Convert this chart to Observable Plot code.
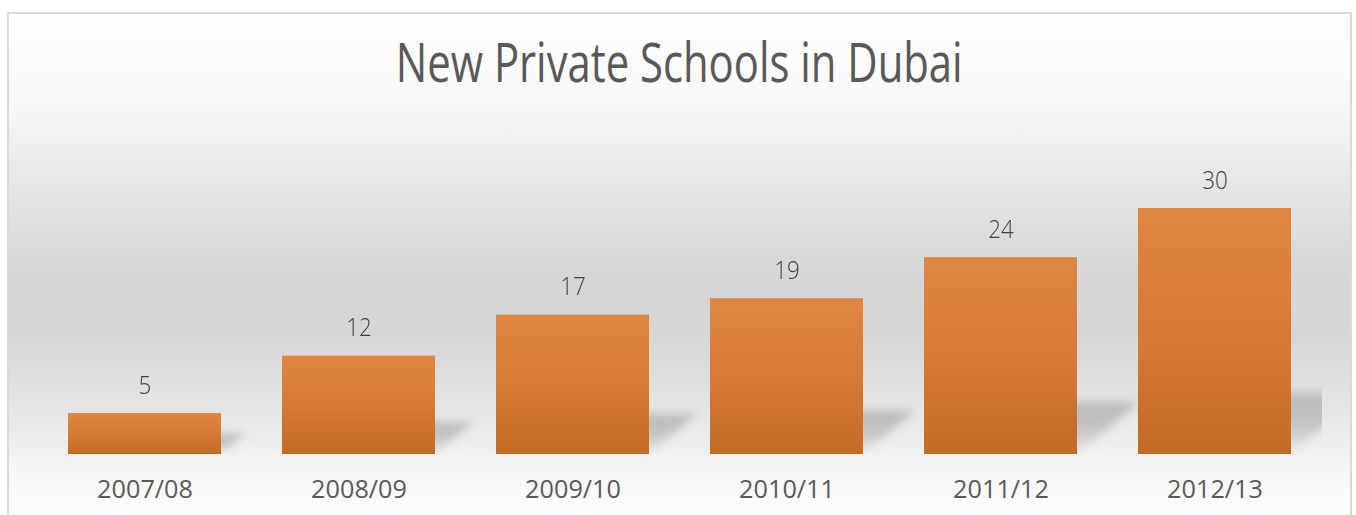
<!DOCTYPE html>
<html>
<head>
<meta charset="utf-8">
<script src="https://cdn.jsdelivr.net/npm/d3@7"></script>
<script src="https://cdn.jsdelivr.net/npm/@observablehq/plot@0.6"></script>
<style>
  html, body { margin: 0; padding: 0; background: #ffffff; }
  #wrap { position: relative; width: 1356px; height: 515px; overflow: hidden; background: #fff; }
  #frame {
    position: absolute; left: 7px; top: 12px; width: 1345px; height: 540px;
    border: 2px solid #d9d9d9; box-sizing: border-box;
    background: linear-gradient(to bottom,
      #ffffff 0px, #f8f8f8 88px, #e6e6e6 170px, #d6d6d6 260px, #d6d6d6 320px,
      #e4e4e4 390px, #ececec 425px, #f7f7f7 458px, #fcfcfc 490px, #fdfdfd 540px);
  }
  #title {
    position: absolute; left: 8px; width: 1343px; top: 34px; text-align: center;
    font-family: "Open Sans", sans-serif; font-weight: 400; font-size: 54px; line-height: 54px;
    color: #595959; white-space: nowrap;
  }
  #title span { display: inline-block; transform-origin: 50% 50%; }
  #chart { position: absolute; left: 0; top: 0; }
</style>
</head>
<body>
<div id="wrap">
  <div id="frame"></div>
  <div id="title"><span id="titleText">New Private Schools in Dubai</span></div>
  <div id="chart"></div>
</div>
<script>
const years = ["2007/08", "2008/09", "2009/10", "2010/11", "2011/12", "2012/13"];
const schools = [5, 12, 17, 19, 24, 30];

const data = years.map((year, i) => ({year, value: schools[i]}));

const plot = Plot.plot({
  width: 1356,
  height: 515,
  marginLeft: 37.5,
  marginRight: 34.5,
  marginTop: 208,
  marginBottom: 61,
  style: {background: "transparent", fontFamily: "Open Sans, sans-serif", overflow: "visible"},
  x: {domain: years, paddingInner: 0.285, paddingOuter: 0.1425, axis: null},
  y: {domain: [0, 30], axis: null},
  marks: [
    // soft cast shadow behind each bar
    Plot.barY(data, {x: "year", y: d => d.value * 0.2 + 1.5, fill: "url(#shadowGrad)", clip: true}),
    Plot.barY(data, {x: "year", y: "value", fill: "url(#barGrad)"}),
    Plot.text(data, {x: "year", y: "value", text: d => String(d.value), lineAnchor: "bottom", dy: -20,
      fontSize: 26, fontWeight: 300, fill: "#404040"}),
    Plot.axisX({domain: years, label: null, tickSize: 0, tickPadding: 25, fontSize: 26, fill: "#595959", color: "#595959"})
  ]
});

const svg = d3.select(plot);
svg.insert("defs", ":first-child").html(`
  <linearGradient id="barGrad" x1="0" y1="0" x2="0" y2="1">
    <stop offset="0" stop-color="#df8642"/>
    <stop offset="0.5" stop-color="#d67b35"/>
    <stop offset="1" stop-color="#c36a25"/>
  </linearGradient>
  <linearGradient id="shadowGrad" x1="0" y1="0" x2="0" y2="1">
    <stop offset="0" stop-color="#9a9a9a" stop-opacity="0.55"/>
    <stop offset="0.45" stop-color="#9a9a9a" stop-opacity="0.5"/>
    <stop offset="1" stop-color="#9a9a9a" stop-opacity="0.05"/>
  </linearGradient>
  <filter id="shadowBlur" x="-50%" y="-50%" width="200%" height="200%">
    <feGaussianBlur stdDeviation="4"/>
  </filter>`);

document.getElementById("chart").appendChild(plot);

// perspective-like shadow: shear each shadow rect about its bottom-left corner
const barGroups = plot.querySelectorAll('g[aria-label="bar"]');
const shadowG = barGroups[0];
if (shadowG) {
  shadowG.setAttribute("filter", "url(#shadowBlur)");
  shadowG.querySelectorAll("rect").forEach(r => {
    const b = r.getBBox();
    const ox = b.x, oy = b.y + b.height;
    r.setAttribute("transform", `translate(${ox},${oy}) skewX(-50) translate(${-ox},${-oy})`);
  });
}

// narrow the text a little to resemble the original condensed face
function squeeze(sel, factor) {
  plot.querySelectorAll(sel).forEach(el => {
    const len = el.getComputedTextLength();
    el.setAttribute("textLength", (len * factor).toFixed(1));
    el.setAttribute("lengthAdjust", "spacingAndGlyphs");
  });
}
squeeze('g[aria-label="text"] text', 0.86);
squeeze('g[aria-label="x-axis tick label"] text', 0.97);

const t = document.getElementById("titleText");
const w = t.getBoundingClientRect().width;
t.style.transform = `scaleX(${(567 / w).toFixed(4)})`;
</script>
</body>
</html>
